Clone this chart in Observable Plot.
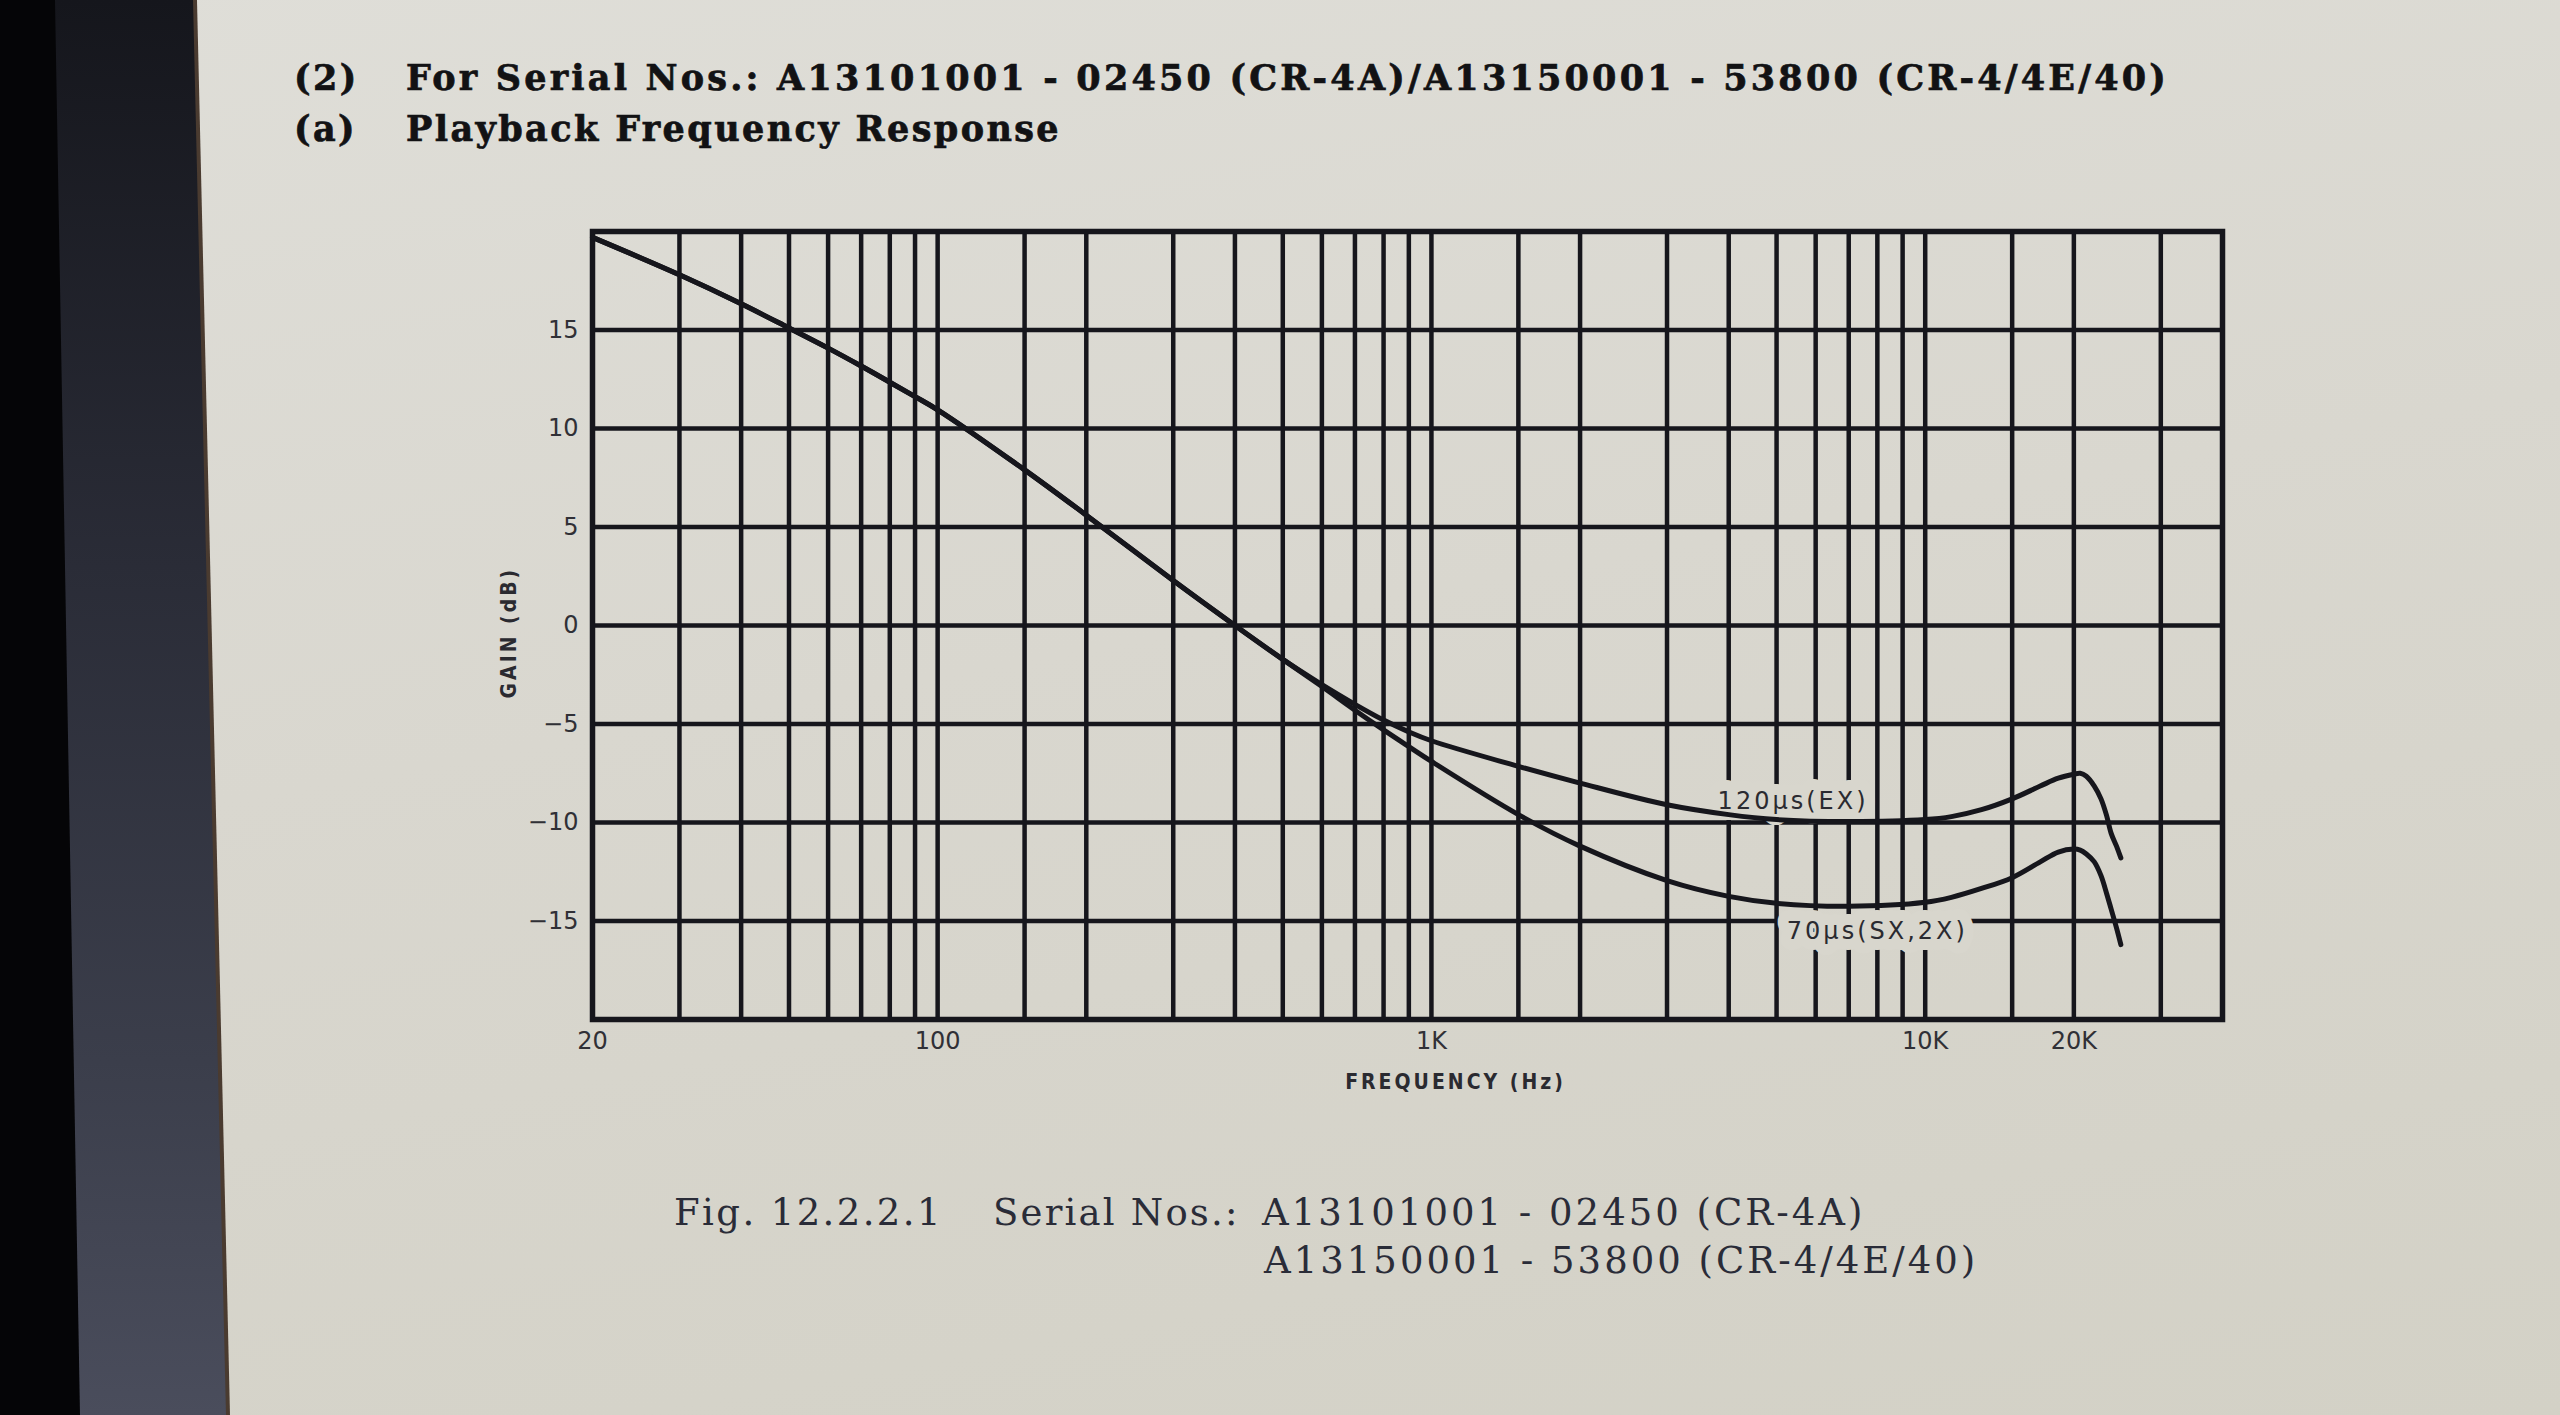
<!DOCTYPE html>
<html>
<head>
<meta charset="utf-8">
<script src="https://cdn.jsdelivr.net/npm/d3@7"></script>
<script src="https://cdn.jsdelivr.net/npm/@observablehq/plot@0.6"></script>
<style>
  html, body { margin: 0; padding: 0; width: 2560px; height: 1415px; overflow: hidden; background: #050507; }
  #band { position: absolute; left: 0; top: 0; width: 2560px; height: 1415px;
    background: linear-gradient(180deg, #15161c 0%, #2a2c37 40%, #3b3e4b 75%, #4a4d5c 100%);
    clip-path: polygon(55px 0, 2560px 0, 2560px 1415px, 80px 1415px); }
  #edge { position: absolute; left: 0; top: 0; width: 2560px; height: 1415px; background: #4a3b30;
    clip-path: polygon(193px 0, 2560px 0, 2560px 1415px, 226px 1415px); }
  #page { position: absolute; left: 0; top: 0; width: 2560px; height: 1415px;
    background: linear-gradient(170deg, #dfded8 0%, #d9d7cf 45%, #d3d1c6 100%);
    clip-path: polygon(197px 0, 2560px 0, 2560px 1415px, 230px 1415px); }
  #chart { position: absolute; left: 0; top: 0; }
  .title { position: absolute; font-family: "DejaVu Serif", serif; font-weight: bold; font-size: 35px;
    letter-spacing: 2.4px; color: #121214; white-space: pre; line-height: 1;
    -webkit-text-stroke: 0.7px #121214; }
  .cap { position: absolute; font-family: "DejaVu Serif", serif; font-size: 37px; letter-spacing: 3px;
    color: #2a2c38; white-space: pre; line-height: 1; }
</style>
</head>
<body>
<div id="band"></div>
<div id="edge"></div>
<div id="page"></div>

<div class="title" style="left:294px; top:60px;">(2)</div>
<div class="title" style="left:406px; top:60px; letter-spacing:3.2px;">For Serial Nos.: A13101001 - 02450 (CR-4A)/A13150001 - 53800 (CR-4/4E/40)</div>
<div class="title" style="left:294px; top:111px;">(a)</div>
<div class="title" style="left:406px; top:111px;">Playback Frequency Response</div>

<div id="chart"></div>

<div class="cap" style="left:674px; top:1194px; letter-spacing:2.4px;">Fig. 12.2.2.1</div>
<div class="cap" style="left:993px; top:1194px; letter-spacing:2.2px;">Serial Nos.:</div>
<div class="cap" style="left:1262px; top:1194px;">A13101001 - 02450 (CR-4A)</div>
<div class="cap" style="left:1264px; top:1242px;">A13150001 - 53800 (CR-4/4E/40)</div>

<script>
// ---- data ----
const freqs = [20, 30, 40, 50, 60, 70, 80, 90, 100, 150, 200, 300, 400, 500, 600, 700, 800, 900,
  1000, 1500, 2000, 3000, 4000, 5000, 7000, 10000, 11300, 13000, 15000, 17100, 18600, 20000, 20600,
  21200, 22000, 22700, 23300, 23800, 24400, 24900];
const gain120 = [19.7, 17.8, 16.33, 15.1, 14.08, 13.17, 12.35, 11.62, 10.95, 7.9, 5.6, 2.28, 0.0, -1.72, -3.0, -4.0, -4.8, -5.4,
  -5.85, -7.15, -8.0, -9.1, -9.6, -9.85, -9.95, -9.85, -9.7, -9.35, -8.8, -8.15, -7.75, -7.55, -7.5,
  -7.65, -8.15, -8.8, -9.65, -10.55, -11.2, -11.8];
const gain70 = [19.7, 17.8, 16.33, 15.1, 14.08, 13.17, 12.35, 11.62, 10.95, 7.9, 5.6, 2.28, 0.0, -1.72, -3.1, -4.3, -5.3, -6.15,
  -6.9, -9.6, -11.2, -12.95, -13.75, -14.1, -14.25, -14.05, -13.8, -13.35, -12.8, -12.0, -11.5, -11.35, -11.4,
  -11.6, -12.0, -12.7, -13.6, -14.4, -15.35, -16.2];

const freqGrid = [30, 40, 50, 60, 70, 80, 90, 100, 150, 200, 300, 400, 500, 600, 700, 800, 900,
  1000, 1500, 2000, 3000, 4000, 5000, 6000, 7000, 8000, 9000, 10000, 15000, 20000, 30000];
const gainGrid = [-15, -10, -5, 0, 5, 10, 15];

const xTicks = [20, 100, 1000, 10000, 20000];
const xTickLabels = ["20", "100", "1K", "10K", "20K"];
const yTicks = [-15, -10, -5, 0, 5, 10, 15];

const curveLabels = ["120µs(EX)", "70µs(SX,2X)"];
const labelFreq = [5400, 8000];
const labelGain = [-8.9, -15.5];

const xLabel = "FREQUENCY (Hz)";
const yLabel = "GAIN (dB)";

// ---- chart ----
const ink = "#16161c";
const paper = "#d8d6cd";
const tickFont = "DejaVu Sans, sans-serif";
const labelFont = "DejaVu Sans Condensed, Liberation Sans Narrow, DejaVu Sans, sans-serif";

const chart = Plot.plot({
  width: 2560,
  height: 1120,
  marginLeft: 592,
  marginRight: 338,
  marginTop: 231,
  marginBottom: 101,
  style: { background: "transparent", overflow: "visible" },
  x: { type: "log", domain: [20, 40000] },
  y: { domain: [-20, 20] },
  marks: [
    Plot.ruleX(freqGrid, { stroke: ink, strokeWidth: 4.5 }),
    Plot.ruleY(gainGrid, { stroke: ink, strokeWidth: 4.5 }),
    Plot.frame({ stroke: ink, strokeWidth: 5.5 }),
    Plot.text(curveLabels, {
      x: (d, i) => labelFreq[i], y: (d, i) => labelGain[i], text: d => d,
      fontSize: 24, fontFamily: tickFont, fill: "#2a2a30",
      stroke: paper, strokeWidth: 22, strokeLinejoin: "round"
    }),
    Plot.line(freqs, { x: freqs, y: gain120, curve: "catmull-rom", stroke: ink, strokeWidth: 5 }),
    Plot.line(freqs, { x: freqs, y: gain70, curve: "catmull-rom", stroke: ink, strokeWidth: 5 }),
    Plot.axisX({
      ticks: xTicks, tickSize: 0, tickPadding: 12, label: null,
      tickFormat: d => xTickLabels[xTicks.indexOf(d)],
      fontSize: 24, fontFamily: tickFont, color: "#303036"
    }),
    Plot.axisY({
      ticks: yTicks, tickSize: 0, tickPadding: 14, label: null,
      fontSize: 24, fontFamily: tickFont, color: "#303036"
    }),
    Plot.text([xLabel], {
      frameAnchor: "bottom", dx: 48, dy: 69, text: d => d,
      fontSize: 21, fontWeight: "bold", fontFamily: labelFont, fill: "#2a2a30"
    }),
    Plot.text([yLabel], {
      frameAnchor: "left", dx: -83, dy: 73, rotate: -90, text: d => d,
      fontSize: 21, fontWeight: "bold", fontFamily: labelFont, fill: "#2a2a30"
    })
  ]
});

document.getElementById("chart").appendChild(chart);

// letter spacing for the spaced-out labels
chart.querySelectorAll("text").forEach(t => {
  const s = t.textContent;
  if (curveLabels.includes(s)) t.setAttribute("letter-spacing", "3");
  if (s === xLabel || s === yLabel) t.setAttribute("letter-spacing", "3");
});
</script>
</body>
</html>
